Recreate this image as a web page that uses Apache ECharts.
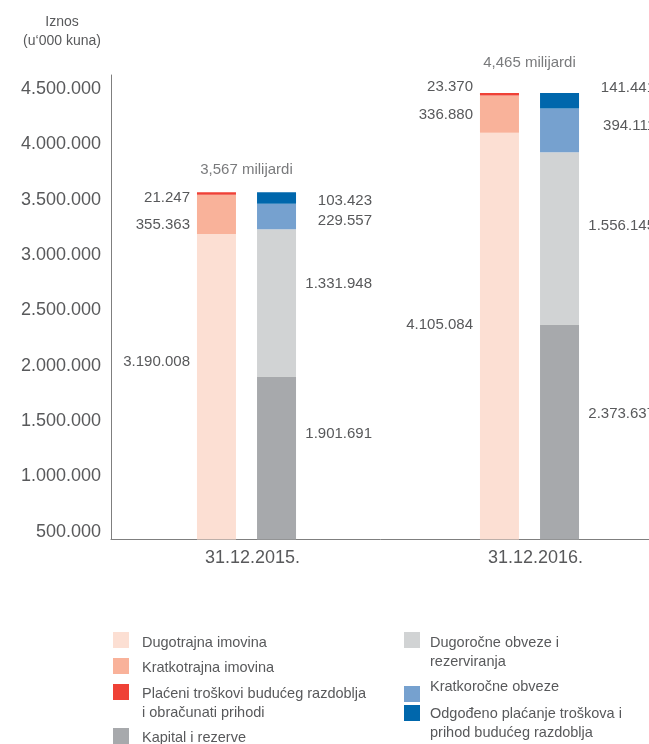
<!DOCTYPE html>
<html>
<head>
<meta charset="utf-8">
<script src="https://cdn.jsdelivr.net/npm/echarts@6/dist/echarts.min.js"></script>
<style>
html,body{margin:0;padding:0;background:#fff;}
#c{width:649px;height:744px;}
</style>
</head>
<body>
<div id="c"></div>
<script>
// ---- data ----
const categories = ['31.12.2015.', '31.12.2016.'];
const dugotrajna = [3190008, 4105084];
const kratkotrajna = [355363, 336880];
const placeni = [21247, 23370];
const kapital = [1901691, 2373637];
const dugorocne = [1331948, 1556145];
const kratkorocne = [229557, 394111];
const odgodeno = [103423, 141441];
const yTicks = [500000, 1000000, 1500000, 2000000, 2500000, 3000000, 3500000, 4000000, 4500000];
const yTitle = 'Iznos\n(u‘000 kuna)';
const totalSuffix = ' milijardi';

const names = {
  dugotrajna: 'Dugotrajna imovina',
  kratkotrajna: 'Kratkotrajna imovina',
  placeni: 'Plaćeni troškovi budućeg razdoblja i obračunati prihodi',
  kapital: 'Kapital i rezerve',
  dugorocne: 'Dugoročne obveze i rezerviranja',
  kratkorocne: 'Kratkoročne obveze',
  odgodeno: 'Odgođeno plaćanje troškova i prihod budućeg razdoblja'
};
const legendText = {
  'Plaćeni troškovi budućeg razdoblja i obračunati prihodi': 'Plaćeni troškovi budućeg razdoblja\ni obračunati prihodi',
  'Dugoročne obveze i rezerviranja': 'Dugoročne obveze i\nrezerviranja',
  'Odgođeno plaćanje troškova i prihod budućeg razdoblja': 'Odgođeno plaćanje troškova i\nprihod budućeg razdoblja'
};

// ---- styling ----
const colors = {
  dugotrajna: '#fcdfd3', kratkotrajna: '#f9b29a', placeni: '#ef4136',
  kapital: '#a7a9ac', dugorocne: '#d1d3d4', kratkorocne: '#76a1cf', odgodeno: '#0067ac'
};
const labelDy = {
  dugotrajna: [-25, -11], kratkotrajna: [10, 1], placeni: [4, -7],
  kapital: [-24, -18], dugorocne: [-19, -12.5], kratkorocne: [4, -4.6], odgodeno: [2.6, -12.8]
};
const totalDy = [-22, -30];
const textColor = '#58595b';
const axisColor = '#7f7f7f';
const FONT = '"Liberation Sans", Arial, Helvetica, sans-serif';
const Y_MIN = 430000, Y_MAX = 4627000;

const fmt = v => String(v).replace(/\B(?=(\d{3})+(?!\d))/g, '.');

function barSeries(key, stack, side) {
  const vals = { dugotrajna, kratkotrajna, placeni, kapital, dugorocne, kratkorocne, odgodeno }[key];
  return {
    name: names[key], type: 'bar', stack: stack, xAxisIndex: 0, yAxisIndex: 0,
    barWidth: 39, barGap: '54%',
    itemStyle: { color: colors[key] },
    label: side === 'left'
      ? { show: true, position: 'left', distance: 7, color: textColor, fontSize: 15, fontFamily: FONT, formatter: p => fmt(p.value) }
      : { show: true, position: 'right', distance: 76, align: 'right', color: textColor, fontSize: 15, fontFamily: FONT, formatter: p => fmt(p.value) },
    emphasis: { disabled: true },
    data: vals.map((v, i) => ({ value: v, label: { offset: [0, labelDy[key][i]] } }))
  };
}

const totals = categories.map((c, i) => dugotrajna[i] + kratkotrajna[i] + placeni[i]);

const legendBase = {
  orient: 'vertical', padding: 0, itemWidth: 16, itemHeight: 16, icon: 'rect',
  selectedMode: false,
  formatter: n => (legendText[n] || n).split('\n').map(s => '{t|' + s + '}').join('\n')
};
function lg(name, left, top, pad) {
  return Object.assign({}, legendBase, {
    left: left, top: top, data: [name],
    textStyle: {
      fontSize: 14.5, lineHeight: 19, color: textColor, fontFamily: FONT, padding: pad,
      rich: { t: { fontSize: 14.5, lineHeight: 19, color: textColor, fontFamily: FONT } }
    }
  });
}

const gridCommon = { top: 75, bottom: 204.5, outerBoundsMode: 'none', containLabel: false };

const option = {
  animation: false,
  backgroundColor: '#ffffff',
  title: {
    text: yTitle, left: 62, top: 13, padding: 0, textAlign: 'center',
    textStyle: { fontSize: 14, lineHeight: 19, fontWeight: 'normal', color: textColor, fontFamily: FONT }
  },
  grid: [
    Object.assign({ left: 105, width: 566 }, gridCommon),
    Object.assign({ left: 111, width: 566 }, gridCommon)
  ],
  xAxis: [
    { type: 'category', gridIndex: 0, data: categories, show: false },
    { type: 'category', gridIndex: 1, data: categories,
      axisLine: { show: true, lineStyle: { color: axisColor, width: 1 } },
      axisTick: { show: false },
      axisLabel: { margin: 10, fontSize: 18, color: textColor, fontFamily: FONT } }
  ],
  yAxis: [
    { type: 'value', gridIndex: 0, min: Y_MIN, max: Y_MAX, show: false, splitLine: { show: false } },
    { type: 'value', gridIndex: 1, min: Y_MIN, max: Y_MAX,
      axisLine: { show: true, lineStyle: { color: axisColor, width: 1 } },
      axisTick: { show: false },
      splitLine: { show: false },
      axisLabel: { customValues: yTicks, margin: 10, fontSize: 18, color: textColor, fontFamily: FONT, formatter: v => fmt(v) } }
  ],
  legend: [
    lg(names.dugotrajna, 113, 627.5, [6, 0, 0, 8]),
    lg(names.kratkotrajna, 113, 654.5, [4, 0, 0, 8]),
    lg(names.placeni, 113, 661.5, [23, 0, 0, 8]),
    lg(names.kapital, 113, 724.5, [4, 0, 0, 8]),
    lg(names.dugorocne, 404, 608.5, [25, 0, 0, 5]),
    lg(names.kratkorocne, 404, 677.5, [0, 0, 14, 5]),
    lg(names.odgodeno, 404, 683.5, [21, 0, 0, 5])
  ],
  series: [
    barSeries('dugotrajna', 'a', 'left'),
    barSeries('kratkotrajna', 'a', 'left'),
    barSeries('placeni', 'a', 'left'),
    barSeries('kapital', 'b', 'right'),
    barSeries('dugorocne', 'b', 'right'),
    barSeries('kratkorocne', 'b', 'right'),
    barSeries('odgodeno', 'b', 'right'),
    {
      name: 'total', type: 'scatter', xAxisIndex: 0, yAxisIndex: 0,
      symbolSize: 1, itemStyle: { color: 'rgba(0,0,0,0)' }, silent: true,
      label: { show: true, position: 'inside', color: textColor, fontSize: 15, fontFamily: FONT,
        formatter: p => (p.value / 1e6).toFixed(3).replace('.', ',') + totalSuffix },
      data: totals.map((t, i) => ({ value: t, label: { offset: [0, totalDy[i]] } }))
    }
  ]
};

const chart = echarts.init(document.getElementById('c'), null, { renderer: 'canvas' });
chart.setOption(option);
</script>
</body>
</html>
